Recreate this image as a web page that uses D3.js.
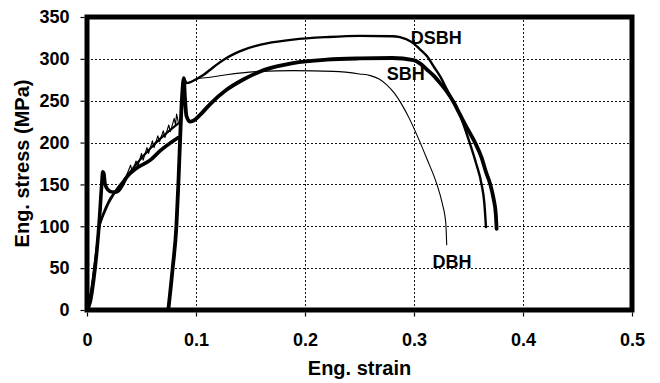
<!DOCTYPE html>
<html>
<head>
<meta charset="utf-8">
<script src="https://cdn.jsdelivr.net/npm/d3@7"></script>
<style>
  html, body { margin: 0; padding: 0; background: #fff; }
  svg { display: block; }
  text { font-family: "Liberation Sans", Arial, sans-serif; font-weight: bold; fill: #000; }
</style>
</head>
<body>
<svg id="chart" width="660" height="383"></svg>
<script>
// Axis ticks
const strainTicks = [0, 0.1, 0.2, 0.3, 0.4, 0.5];
const stressTicks = [0, 50, 100, 150, 200, 250, 300, 350];

// Pre-strain loading curves, [strain, stress MPa]
const sbhPrestrain = [[0,0],[0.003,10],[0.006,35],[0.009,70],[0.0115,110],[0.0135,150],[0.0145,165],[0.0155,163],[0.0165,151],[0.019,144],[0.023,141],[0.027,141],[0.031,146],[0.036,158],[0.045,169],[0.058,179],[0.067,190],[0.0838,206]];
const dsbhPrestrain = [[0,0],[0.004,25],[0.008,65],[0.0115,100],[0.015,115],[0.02,130],[0.025,140],[0.03,149],[0.036,159],[0.045,174],[0.058,193],[0.07,208],[0.0838,223]];
const dbhPrestrain = [[0,0],[0.004,25],[0.008,65],[0.0115,100],[0.015,112],[0.02,127],[0.025,138],[0.03,148],[0.036,160],[0.040,173],[0.0415,165],[0.045,178],[0.0465,171],[0.050,187],[0.0515,179],[0.055,194],[0.0565,187],[0.060,202],[0.0615,194],[0.065,208],[0.0665,201],[0.070,214],[0.0715,206],[0.075,221],[0.0765,213],[0.080,229],[0.0812,221],[0.0822,234],[0.0838,224]];

// Reloading after bake hardening, [strain, stress MPa]
const sbhReload = [[0.0746,0],[0.0786,50],[0.082,100],[0.0838,150],[0.0853,200],[0.087,250],[0.0882,272],[0.0888,277],[0.0898,255],[0.0912,232],[0.0945,225],[0.0975,226],[0.1037,233],[0.113,246],[0.128,263],[0.143,275],[0.159,285],[0.174,291],[0.189,295],[0.22,299],[0.25,300.5],[0.28,301],[0.2995,298.5],[0.306,294],[0.312,287],[0.318,280],[0.324,271],[0.330,261],[0.336,249],[0.342,234],[0.348,219],[0.356,200],[0.362,182],[0.366,165],[0.370,150],[0.373,133],[0.375,115],[0.3758,97]];
const dsbhReload = [[0.0746,0],[0.0786,50],[0.082,100],[0.0838,150],[0.0853,200],[0.087,250],[0.0882,272],[0.0888,277],[0.0915,271],[0.1006,276],[0.106,280],[0.113,287],[0.12,294],[0.128,301],[0.136,306.5],[0.143,310.5],[0.155,315.5],[0.165,318.5],[0.189,323],[0.22,326],[0.25,327.5],[0.28,327],[0.287,326],[0.298,320],[0.305,312],[0.312,303],[0.318,291],[0.324,279],[0.330,264],[0.336,249],[0.343,230],[0.351,200],[0.357,175],[0.362,150],[0.3645,128],[0.3655,110],[0.366,99]];
const dbhReload = [[0.0746,0],[0.0786,50],[0.082,100],[0.0838,150],[0.0853,200],[0.087,250],[0.0882,272],[0.0888,277],[0.0915,271],[0.1006,276],[0.113,278],[0.128,281],[0.159,285],[0.189,286],[0.226,285],[0.25,282],[0.26,280],[0.268,276],[0.275,269],[0.282,259],[0.289,245],[0.296,228],[0.303,208],[0.312,180],[0.321,150],[0.326,127],[0.3292,103],[0.33,78]];

// Series labels placed at [strain, stress]
const seriesLabels = ["DSBH", "SBH", "DBH"];
const labelAnchors = [[0.297, 318], [0.275, 275], [0.317, 50]];

const svg = d3.select("#chart");
const x = d3.scaleLinear().domain([0, 0.5]).range([87, 632]);
const y = d3.scaleLinear().domain([0, 350]).range([310, 17]);
const snap = v => Math.round(v) + 0.5;

// Dotted grid
const grid = svg.append("g").attr("stroke", "#111").attr("stroke-width", 1).attr("stroke-dasharray", "2,2");
grid.selectAll("line.h").data(stressTicks.slice(1, -1)).join("line").attr("class", "h")
  .attr("x1", x(0)).attr("x2", x(0.5)).attr("y1", d => snap(y(d))).attr("y2", d => snap(y(d)));
grid.selectAll("line.v").data(strainTicks.slice(1, -1)).join("line").attr("class", "v")
  .attr("x1", d => snap(x(d))).attr("x2", d => snap(x(d))).attr("y1", y(0)).attr("y2", y(350));

// Axes
const fmtStrain = d => d === 0 ? "0" : d3.format(".1f")(d);
const xAxis = svg.append("g").attr("transform", `translate(0,${y(0) + 2.5})`)
  .call(d3.axisBottom(x).tickValues(strainTicks).tickFormat(fmtStrain).tickSize(4).tickPadding(17));
const yAxis = svg.append("g").attr("transform", `translate(${x(0) - 2.5},0)`)
  .call(d3.axisLeft(y).tickValues(stressTicks).tickSize(4).tickPadding(11));
[xAxis, yAxis].forEach(g => {
  g.select(".domain").remove();
  g.selectAll(".tick line").attr("stroke", "#000").attr("stroke-width", 1.2);
  g.selectAll(".tick text").style("font-size", "18px").style("font-weight", "bold")
    .style("font-family", '"Liberation Sans", Arial, sans-serif').attr("fill", "#000");
});

// Curves
const line = d3.line().x(d => x(d[0])).y(d => y(d[1])).curve(d3.curveMonotoneX);
const lineSharp = d3.line().x(d => x(d[0])).y(d => y(d[1]));
const curves = [
  { data: dbhPrestrain, w: 1.1, gen: lineSharp },
  { data: dsbhPrestrain, w: 2.2, gen: line },
  { data: sbhPrestrain, w: 3.6, gen: line },
  { data: dbhReload, w: 1.1, gen: line },
  { data: dsbhReload, w: 2.4, gen: line },
  { data: sbhReload, w: 3.8, gen: line }
];
svg.append("g").selectAll("path").data(curves).join("path")
  .attr("d", d => d.gen(d.data)).attr("fill", "none").attr("stroke", "#000")
  .attr("stroke-width", d => d.w).attr("stroke-linejoin", "round").attr("stroke-linecap", "round");

// Plot frame
svg.append("rect").attr("x", x(0)).attr("y", y(350)).attr("width", x(0.5) - x(0)).attr("height", y(0) - y(350))
  .attr("fill", "none").attr("stroke", "#000").attr("stroke-width", 5);

// Series labels
svg.append("g").selectAll("text").data(seriesLabels).join("text")
  .attr("x", (d, i) => x(labelAnchors[i][0])).attr("y", (d, i) => y(labelAnchors[i][1]))
  .style("font-size", "18px").text(d => d);

// Axis titles
svg.append("text").attr("x", (x(0) + x(0.5)) / 2).attr("y", 375).attr("text-anchor", "middle")
  .style("font-size", "20px").text("Eng. strain");
svg.append("text").attr("transform", `translate(29,${(y(0) + y(350)) / 2}) rotate(-90)`).attr("text-anchor", "middle")
  .style("font-size", "20px").text("Eng. stress (MPa)");
</script>
</body>
</html>
